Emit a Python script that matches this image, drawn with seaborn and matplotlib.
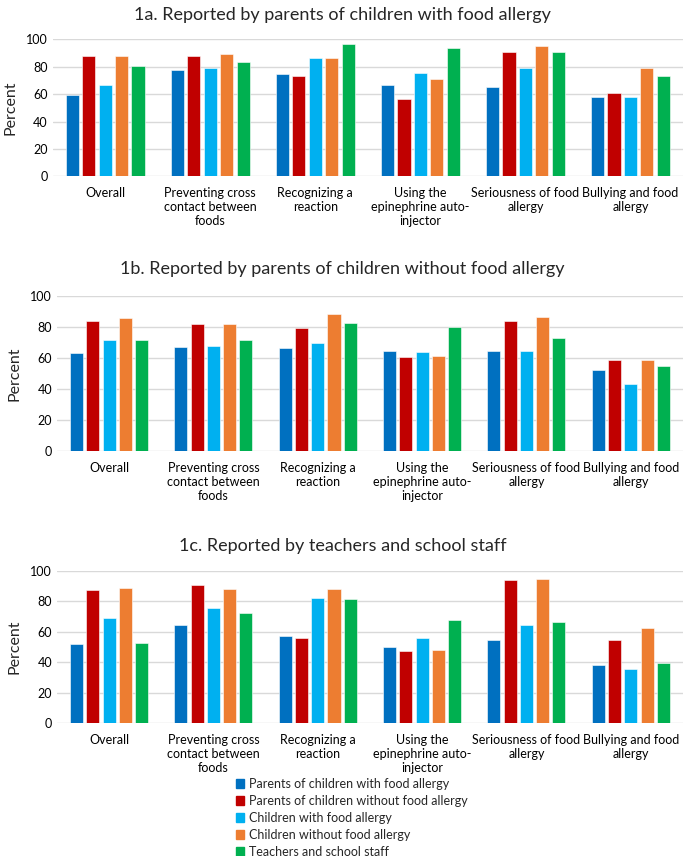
import seaborn as sns
import matplotlib.pyplot as plt
import pandas as pd

# Categories (x axis) and groups (hue)
categories = [
    "Overall",
    "Preventing cross\ncontact between\nfoods",
    "Recognizing a\nreaction",
    "Using the\nepinephrine auto-\ninjector",
    "Seriousness of food\nallergy",
    "Bullying and food\nallergy",
]
groups = [
    "Parents of children with food allergy",
    "Parents of children without food allergy",
    "Children with food allergy",
    "Children without food allergy",
    "Teachers and school staff",
]
colors = ["#0070C0", "#C00000", "#00B0F0", "#ED7D31", "#00B050"]

# 1a. Reported by parents of children with food allergy
a_parents_fa = [59.5, 77.4, 74.5, 67.0, 65.5, 58.0]
a_parents_nofa = [88.1, 88.1, 73.1, 56.6, 91.0, 61.2]
a_children_fa = [67.0, 78.9, 86.7, 75.7, 78.9, 58.0]
a_children_nofa = [88.1, 89.6, 86.7, 71.4, 95.4, 78.9]
a_teachers = [80.6, 83.5, 96.8, 93.9, 91.0, 73.1]

# 1b. Reported by parents of children without food allergy
b_parents_fa = [63.2, 67.3, 66.5, 64.5, 64.9, 52.5]
b_parents_nofa = [84.3, 81.9, 79.6, 60.9, 84.3, 58.9]
b_children_fa = [72.0, 67.7, 70.1, 63.7, 64.5, 43.2]
b_children_nofa = [86.0, 81.9, 88.4, 61.7, 86.7, 58.9]
b_teachers = [72.0, 72.0, 83.0, 80.0, 72.7, 55.1]

# 1c. Reported by teachers and school staff
c_parents_fa = [52.2, 64.6, 57.6, 49.8, 54.8, 38.0]
c_parents_nofa = [87.3, 91.0, 56.3, 47.4, 94.3, 54.4]
c_children_fa = [68.8, 75.5, 82.5, 56.1, 64.8, 35.6]
c_children_nofa = [89.1, 88.0, 88.0, 48.3, 95.0, 62.4]
c_teachers = [52.6, 72.1, 81.9, 68.1, 66.2, 39.5]

titles = [
    "1a. Reported by parents of children with food allergy",
    "1b. Reported by parents of children without food allergy",
    "1c. Reported by teachers and school staff",
]


def to_long(series_list):
    rows = []
    for grp, vals in zip(groups, series_list):
        for cat, v in zip(categories, vals):
            rows.append({"category": cat, "group": grp, "percent": v})
    return pd.DataFrame(rows)


panels = [
    to_long([a_parents_fa, a_parents_nofa, a_children_fa, a_children_nofa, a_teachers]),
    to_long([b_parents_fa, b_parents_nofa, b_children_fa, b_children_nofa, b_teachers]),
    to_long([c_parents_fa, c_parents_nofa, c_children_fa, c_children_nofa, c_teachers]),
]

sns.set_theme(style="white")
plt.rcParams["font.family"] = ["Lato", "DejaVu Sans"]

fig = plt.figure(figsize=(6.85, 8.56), dpi=100)

# axes rectangles [left, bottom, width, height] and title y positions
rects = [
    [0.077, 0.794, 0.920, 0.160],
    [0.083, 0.473, 0.914, 0.181],
    [0.083, 0.155, 0.914, 0.178],
]
title_y = [0.983, 0.686, 0.362]

for df, rect, title, ty in zip(panels, rects, titles, title_y):
    ax = fig.add_axes(rect)
    sns.barplot(data=df, x="category", y="percent", hue="group",
                palette=colors, saturation=1, width=0.78, gap=0.2, ax=ax,
                edgecolor="white", linewidth=0.4, legend=False)
    ax.set_ylim(0, 100)
    ax.set_yticks([0, 20, 40, 60, 80, 100])
    ax.set_xlim(-0.5, 5.5)
    ax.yaxis.grid(True, color="#D9D9D9", linewidth=1)
    ax.set_axisbelow(True)
    for s in ["top", "right", "left", "bottom"]:
        ax.spines[s].set_visible(False)
    ax.tick_params(axis="both", length=0, labelsize=9, colors="#000000")
    ax.tick_params(axis="x", pad=8)
    ax.set_xlabel("")
    ax.set_ylabel("Percent", fontsize=11.5, labelpad=6)
    fig.text(0.5, ty, title, ha="center", va="center", fontsize=13)

handles = [plt.Rectangle((0, 0), 1, 1, color=c) for c in colors]
fig.legend(handles, groups, loc="upper left", bbox_to_anchor=(0.335, 0.099),
           frameon=False, fontsize=9, handlelength=0.7, handleheight=0.7,
           handletextpad=0.4, labelspacing=0.4, borderpad=0)

plt.savefig("out.png", dpi=100)
plt.close()
